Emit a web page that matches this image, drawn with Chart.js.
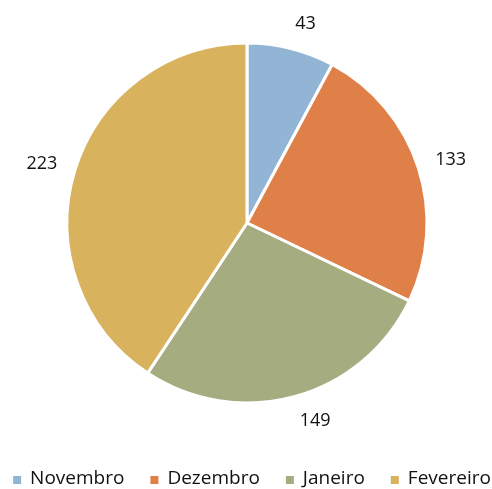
<!DOCTYPE html>
<html>
<head>
<meta charset="utf-8">
<script src="https://cdn.jsdelivr.net/npm/chart.js@4"></script>
<style>
  html, body { margin: 0; padding: 0; background: #fff; }
  #wrap { width: 492px; height: 489px; }
</style>
</head>
<body>
<div id="wrap"><canvas id="pie"></canvas></div>
<script>
// months and values
const months = ['Novembro', 'Dezembro', 'Janeiro', 'Fevereiro']
const counts = [43, 133, 149, 223]
const sliceColors = ['#93b5d5', '#df8049', '#a5ac80', '#d8b25d']

const fontFamily = '"Open Sans", "Liberation Sans", sans-serif'
const textColor = '#111'

// labels placed just outside each slice, Excel style
const outsideLabels = {
    id: 'outsideLabels',
    afterDatasetsDraw(chart) {
        const ctx = chart.ctx
        const meta = chart.getDatasetMeta(0)
        ctx.save()
        ctx.font = '18px ' + fontFamily
        ctx.fillStyle = textColor
        ctx.textBaseline = 'middle'
        meta.data.forEach((arc, i) => {
            const p = arc.getProps(['x', 'y', 'startAngle', 'endAngle', 'outerRadius'], true)
            const mid = (p.startAngle + p.endAngle) / 2
            const dx = Math.cos(mid), dy = Math.sin(mid)
            const d = p.outerRadius + 18
            const px = p.x + d * dx
            const py = p.y + d * dy + dy * 7
            ctx.textAlign = dx >= 0 ? 'left' : 'right'
            ctx.fillText(String(chart.data.datasets[0].data[i]), px, py)
        })
        ctx.restore()
    }
}

// one-row legend under the pie (built-in one wraps at this width)
const bottomLegend = {
    id: 'bottomLegend',
    afterDraw(chart) {
        const ctx = chart.ctx
        const box = 8, gap = 9, between = 26
        const y = 479
        ctx.save()
        ctx.font = '19px ' + fontFamily
        ctx.textBaseline = 'middle'
        ctx.textAlign = 'left'
        const widths = chart.data.labels.map(t => ctx.measureText(t).width)
        const total = widths.reduce((a, w) => a + box + gap + w, 0) + between * (widths.length - 1)
        let x = 252 - total / 2
        chart.data.labels.forEach((label, i) => {
            ctx.fillStyle = chart.data.datasets[0].backgroundColor[i]
            ctx.fillRect(x, y - box / 2 + 1, box, box)
            ctx.fillStyle = textColor
            ctx.fillText(label, x + box + gap, y)
            x += box + gap + widths[i] + between
        })
        ctx.restore()
    }
}

new Chart(document.querySelector('#pie').getContext('2d'), {
    type: 'pie',
    data: {
        labels: months,
        datasets: [{
            data: counts,
            backgroundColor: sliceColors,
            borderColor: '#ffffff',
            borderWidth: 3
        }]
    },
    options: {
        responsive: true,
        maintainAspectRatio: false,
        animation: false,
        radius: 180,
        layout: { padding: { left: 2, right: 0, top: 0, bottom: 43 } },
        plugins: {
            tooltip: { enabled: false },
            legend: { display: false }
        }
    },
    plugins: [outsideLabels, bottomLegend]
})
</script>
</body>
</html>
